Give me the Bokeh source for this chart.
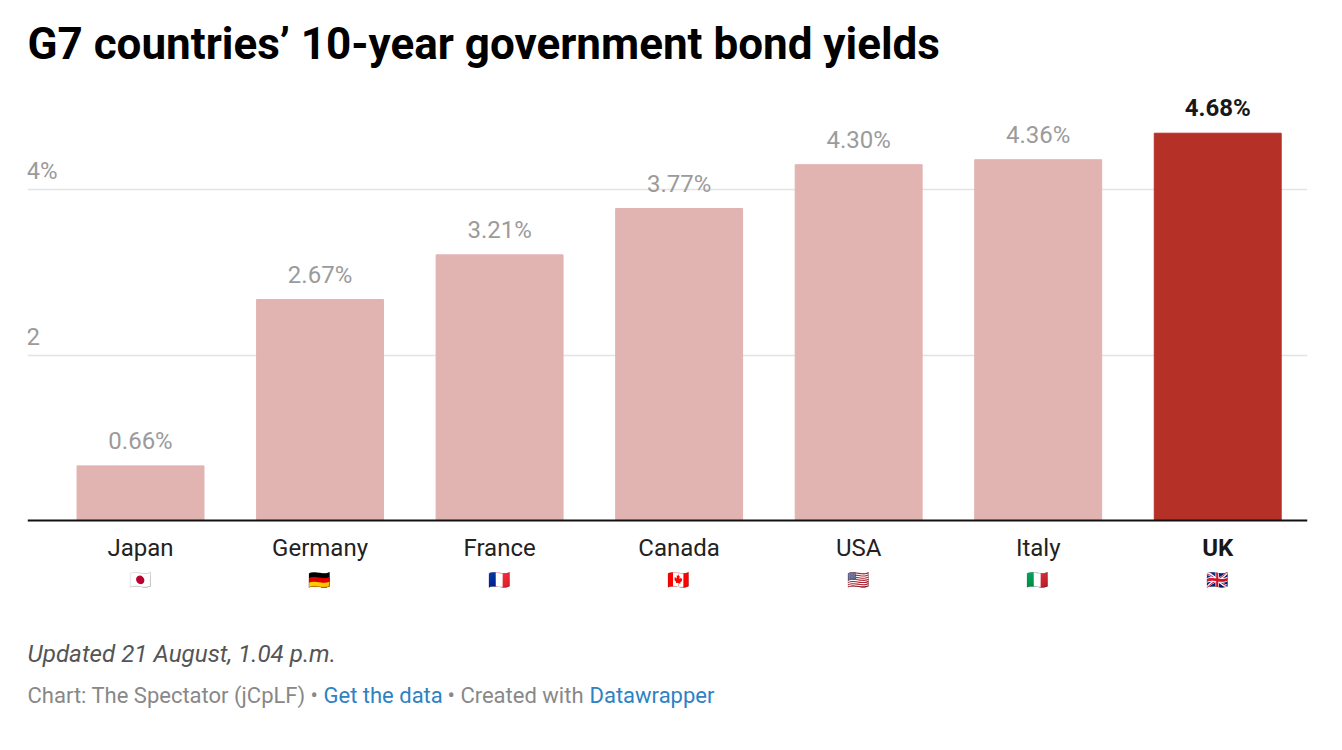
from bokeh.plotting import figure
from bokeh.models import (ColumnDataSource, Range1d, FixedTicker, LabelSet, Label, Title, Span)
from bokeh.core.properties import value
from bokeh.embed import file_html
from bokeh.resources import INLINE

title_text = "G7 countries’ 10-year government bond yields"
categories = ["Japan", "Germany", "France", "Canada", "USA", "Italy", "UK"]
yields = [0.66, 2.67, 3.21, 3.77, 4.30, 4.36, 4.68]
flags = ["🇯🇵", "🇩🇪", "🇫🇷", "🇨🇦", "🇺🇸", "🇮🇹", "🇬🇧"]
y_ticks = [2, 4]
y_tick_labels = ["2", "4%"]
note = "Updated 21 August, 1.04 p.m."

FONT = "Roboto"
W, H = 1326, 734
PINK, RED = "#e1b3b1", "#b53127"
GREY = "#9b9b9b"
INK = "#222222"
X0, Y0, TOP = 27, 520, 71    # frame's left edge, baseline and top on the page
UNIT = 82.75                 # pixels per percentage point

xs = list(range(len(categories)))
colors = [RED if c == "UK" else PINK for c in categories]
labels = [f"{v:.2f}%" for v in yields]
src = ColumnDataSource(dict(x=xs, y=yields, color=colors))

p = figure(width=W, height=H, output_backend="svg", toolbar_location=None,
           x_range=Range1d(-0.6295, 6.5),
           y_range=Range1d((Y0 - H) / UNIT, (Y0 - TOP) / UNIT),
           min_border_left=X0, min_border_right=19, min_border_top=TOP, min_border_bottom=0,
           background_fill_color="white", border_fill_color="white", outline_line_color=None)

p.vbar(x="x", top="y", bottom=0, width=0.707, color="color", source=src)
p.add_layout(Span(location=0, dimension="width", line_color="#111111", line_width=2))

p.title = Title(text=title_text, align="left", vertical_align="top", text_font=FONT, text_font_size="44px",
                text_font_style="bold", text_color="#000000", standoff=0, offset=0)

p.xgrid.visible = False
p.ygrid.ticker = FixedTicker(ticks=y_ticks)
p.ygrid.grid_line_color = "#e3e3e3"
p.ygrid.grid_line_width = 1.5
p.xaxis.visible = False
p.yaxis.visible = False

def label_set(x, y, text, y_offset, align="center", size="24px", style="normal", color=GREY, font=FONT, x_offset=0):
    data = ColumnDataSource(dict(x=x, y=y, t=text))
    p.add_layout(LabelSet(x="x", y="y", text="t", source=data, y_offset=y_offset, x_offset=x_offset, text_align=align,
                          text_baseline="middle", text_font=value(font), text_font_size=value(size),
                          text_font_style=style, text_color=color))

zeros = [0] * len(xs)
label_set(xs[:-1], yields[:-1], labels[:-1], 25)
label_set(xs[-1:], yields[-1:], labels[-1:], 25, style="bold", color="#181818")
label_set([-0.6295] * 2, y_ticks, y_tick_labels, 19, align="left", x_offset=-1)
label_set(xs[:-1], zeros[:-1], categories[:-1], -27, color=INK)
label_set(xs[-1:], zeros[-1:], categories[-1:], -27, style="bold", color="#181818")
label_set(xs, zeros, flags, -58, size="18px", color="#000000", font="Noto Sans", x_offset=-1)

def txt(text, px, py, color, size="22px", style="normal"):
    p.add_layout(Label(x=px - X0, y=H - py, x_units="screen", y_units="screen", text=text,
                       text_baseline="middle", text_font=FONT, text_font_size=size,
                       text_font_style=style, text_color=color))

txt(note, 27, 653, "#555555", size="24.2px", style="italic")
txt("Chart: The Spectator (jCpLF) •", 27, 695, "#888888")
txt("Get the data", 323, 695, "#2d82c4")
txt("• Created with", 447, 695, "#888888")
txt("Datawrapper", 589, 695, "#2d82c4")

open("out.html", "w").write(file_html(p, INLINE))
